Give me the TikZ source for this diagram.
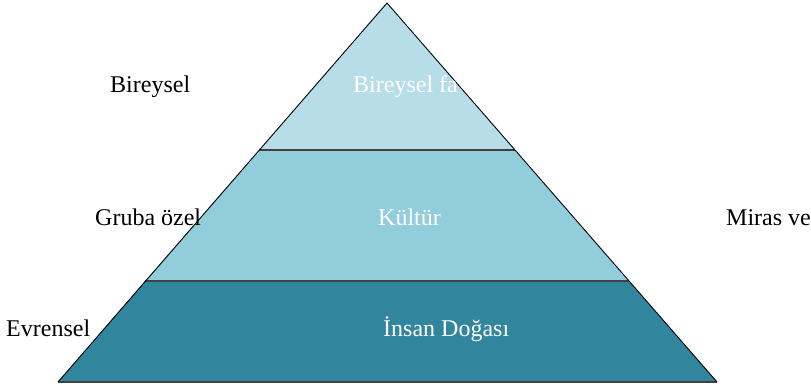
\documentclass[tikz,border=0pt]{standalone}
\usepackage{fontspec}
\setmainfont{Liberation Serif}
\usetikzlibrary{positioning}

\definecolor{katust}{HTML}{B7DDE8}
\definecolor{katorta}{HTML}{92CDDC}
\definecolor{katalt}{HTML}{31859C}

\begin{document}
\begin{tikzpicture}[x=1pt,y=-1pt,
	etiket/.style={font=\fontsize{24}{28}\selectfont,anchor=base west,inner sep=0pt},
	ic/.style={etiket,text=white},
	ayrac/.style={draw=black!75,line width=1.5pt}]

\useasboundingbox (0,0) rectangle (811,388);

% piramit koseleri
\coordinate (tepe) at (387,3);
\coordinate (ul) at (259,150);	\coordinate (ur) at (515,150);
\coordinate (ml) at (145,281);	\coordinate (mr) at (629,281);
\coordinate (bl) at (58,382);	\coordinate (br) at (717,382);

\fill[katust]	(tepe) -- (ur) -- (ul) -- cycle;
\fill[katorta]	(ul) -- (ur) -- (mr) -- (ml) -- cycle;
\fill[katalt]	(ml) -- (mr) -- (br) -- (bl) -- cycle;

\draw[ayrac] (ul) -- (ur);
\draw[ayrac] (ml) -- (mr);
\draw[ayrac] (bl) -- (br);
\draw[line width=0.9pt] (bl) -- (tepe) -- (br);

\begin{scope}
	\clip (tepe) -- (ur) -- (ul) -- cycle;
	\node[ic]	(bfaktor)	at (353,92)	{Bireysel fa};
\end{scope}
\node[ic]	(kultur)	at (378,225)	{Kültür};
\node[ic]	(insan)		at (383,336)	{İnsan Doğası};

\node[etiket]	(bireysel)	at (110,92)	{Bireysel};
\node[etiket]	(gruba)		at (95,225)	{Gruba özel};
\node[etiket]	(evrensel)	at (6,336)	{Evrensel};
\node[etiket]	(miras)		at (726,225)	{Miras ve};

\end{tikzpicture}
\end{document}
